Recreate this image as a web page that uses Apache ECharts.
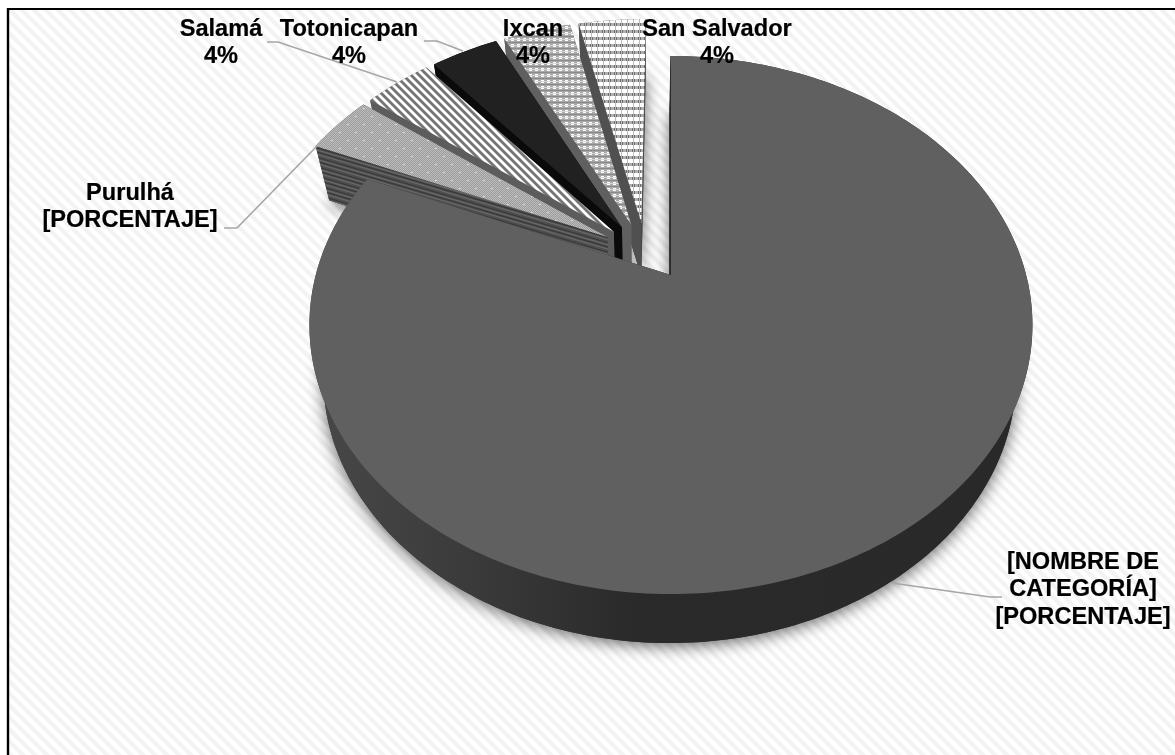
<!DOCTYPE html>
<html><head><meta charset="utf-8">
<style>html,body{margin:0;padding:0;background:#fff}#c{width:1175px;height:755px}</style>
<script src="https://cdn.jsdelivr.net/npm/echarts@6/dist/echarts.min.js"></script>
</head><body><div id="c"></div>
<script>
// ---- data ----
const categories = ['[NOMBRE DE CATEGORÍA]', 'Purulhá', 'Salamá', 'Totonicapan', 'Ixcan', 'San Salvador'];
const sliceValues = [22, 1, 1, 1, 1, 1];
const labelTexts = ['[NOMBRE DE\nCATEGORÍA]\n[PORCENTAJE]', 'Purulhá\n[PORCENTAJE]', 'Salamá\n4%', 'Totonicapan\n4%', 'Ixcan\n4%', 'San Salvador\n4%'];

// ---- layout / style ----
const labelCenters = [[1083, 589.5], [130, 207], [221, 43], [349, 43], [533, 43], [717, 43]];
const leaders = [
  [[1002,597],[990,597],[892,583]],
  [[224,228],[237,228],[317,146]],
  [[267,42],[278,42],[397,82]],
  [[424,41],[437,41],[463,51]],
  null, null
];
const total = sliceValues.reduce((a, b) => a + b, 0);
const CX = 671.5, PROJ_A = 275, PROJ_B = -208.6, PROJ_C = 0.1859, PROJ_RX = 355.2;
const HUB = [-0.073, 0.0944], EXPLODE_U = 0.13, EXPLODE_V = 0.113;
const DEPTH = 49, DEPTH_GROW = 0.012, SHRINK = 0.958, VX = 640;

function project(u, v) {
  const w = 1 + PROJ_C * v;
  return [CX + PROJ_RX * u / w, (PROJ_A + PROJ_B * v) / w];
}
function lower(p) { return [p[0] + (VX - p[0]) * (1 - SHRINK), p[1] + DEPTH + (594 - p[1]) * DEPTH_GROW]; }

function tile(size, draw) {
  const w = Array.isArray(size) ? size[0] : size, h = Array.isArray(size) ? size[1] : size;
  const cv = document.createElement('canvas'); cv.width = w; cv.height = h;
  const g = cv.getContext('2d'); draw(g, w, h); return cv;
}
function diag(g, s, bg, fg, lw) {
  g.fillStyle = bg; g.fillRect(0, 0, s, s);
  g.strokeStyle = fg; g.lineWidth = lw;
  for (let i = -2 * s; i <= 2 * s; i += s) { g.beginPath(); g.moveTo(i - s, -s); g.lineTo(i + 2 * s, 2 * s); g.stroke(); }
}
const bgTile = tile(12, (g, s) => diag(g, s, '#ffffff', '#f3f3f3', 4.2));
const salamaTile = tile(8, (g, s) => diag(g, s, '#ffffff', '#757575', 2.8));
const purulhaTile = tile(16, (g) => {
  for (let y = 0; y < 16; y++) for (let x = 0; x < 16; x++) {
    g.fillStyle = (x + y) % 2 ? '#9c9c9c' : '#bcbcbc'; g.fillRect(x, y, 1, 1);
  }
  g.fillStyle = '#dcdcdc'; g.fillRect(3, 4, 2, 1); g.fillRect(11, 12, 2, 1);
});
const purulhaSide = tile([8, 9], (g) => {
  g.fillStyle = '#4e4e4e'; g.fillRect(0, 0, 8, 9);
  g.fillStyle = '#6c6c6c'; g.fillRect(0, 0, 8, 1); g.fillRect(0, 4, 8, 1);
  g.fillStyle = '#363636'; g.fillRect(0, 2, 8, 1); g.fillRect(0, 7, 8, 1);
});
const ixcanTile = tile(6, (g) => {
  g.fillStyle = '#a8a8a8'; g.fillRect(0, 0, 6, 6);
  g.fillStyle = '#8a8a8a'; g.fillRect(0, 0, 6, 1);
  g.fillStyle = '#ffffff'; g.fillRect(1, 2, 3, 3);
  g.fillStyle = '#d8d8d8'; g.fillRect(0, 3, 6, 1);
});
const salvadorTile = tile([6, 7], (g) => {
  g.fillStyle = '#ffffff'; g.fillRect(0, 0, 6, 7);
  g.fillStyle = '#b0b0b0'; g.fillRect(0, 2, 6, 3);
  g.fillStyle = '#6e6e6e'; g.fillRect(2, 2, 3, 3);
  g.fillStyle = '#bbbbbb'; g.fillRect(3, 0, 1, 7);
});

const topFills = ['#606060', {image: purulhaTile, repeat: 'repeat'}, {image: salamaTile, repeat: 'repeat'}, '#212121',
  {image: ixcanTile, repeat: 'repeat'}, {image: salvadorTile, repeat: 'repeat'}];
const sideFills = [
  {type: 'linear', x: 0, y: 0, x2: 1, y2: 0, colorStops: [
    {offset: 0, color: '#484848'}, {offset: 0.2, color: '#3c3c3c'}, {offset: 0.45, color: '#2a2a2a'}, {offset: 1, color: '#292929'}]},
  {image: purulhaSide, repeat: 'repeat', rotation: 0.286}, '#5c5c5c', '#0a0a0a', '#606060', '#505050'
];

function renderSlice(params, api) {
  const i = params.dataIndex;
  const before = sliceValues.slice(0, i).reduce((a, b) => a + b, 0);
  const a0 = before / total * 2 * Math.PI, a1 = (before + api.value(1)) / total * 2 * Math.PI;
  const mid = (a0 + a1) / 2;
  const ax = HUB[0] + EXPLODE_U * Math.sin(mid), ay = HUB[1] + EXPLODE_V * Math.cos(mid);
  const apex = project(ax, ay);
  const arc = [];
  const n = Math.max(8, Math.round((a1 - a0) * 180 / Math.PI));
  for (let k = 0; k <= n; k++) {
    const t = a0 + (a1 - a0) * k / n;
    arc.push(project(ax + Math.sin(t), ay + Math.cos(t)));
  }
  const arcLow = arc.map(lower), apexLow = lower(apex);
  const z = 10 * (6 - i) + (i === 0 ? 100 : 0);
  const kids = [];
  // shadow-casting floor
  kids.push({type: 'polygon', z2: i === 0 ? 1 : 2,
    shape: {points: [apexLow].concat(arcLow)},
    style: {fill: '#333', shadowBlur: 16, shadowColor: 'rgba(0,0,0,0.6)', shadowOffsetX: 0, shadowOffsetY: 3}});
  // radial faces
  kids.push({type: 'polygon', z2: z, shape: {points: [apex, arc[0], arcLow[0], apexLow]},
    style: {fill: sideFills[i] , stroke: i === 0 ? '#2a2a2a' : null, lineWidth: 1}});
  kids.push({type: 'polygon', z2: z, shape: {points: [apex, arc[n], arcLow[n], apexLow]},
    style: {fill: sideFills[i]}});
  // rim
  kids.push({type: 'polygon', z2: z + 1, shape: {points: arc.concat(arcLow.slice().reverse())},
    style: {fill: sideFills[i]}});
  // top face
  kids.push({type: 'polygon', z2: z + 2, shape: {points: [apex].concat(arc)},
    style: {fill: topFills[i]}});
  // leader
  if (leaders[i]) kids.push({type: 'polyline', z2: 300, shape: {points: leaders[i]},
    style: {fill: null, stroke: '#a6a6a6', lineWidth: 1.6}});
  // label
  kids.push({type: 'text', z2: 400, style: {
    text: labelTexts[i], x: labelCenters[i][0], y: labelCenters[i][1], align: 'center', verticalAlign: 'middle',
    font: 'bold 23.6px "Liberation Sans", Arial, sans-serif', lineHeight: 27.5, fill: '#000', stroke: '#000', lineWidth: 0.2}});
  return {type: 'group', children: kids};
}

const chart = echarts.init(document.getElementById('c'), null, {renderer: 'canvas'});
chart.setOption({
  animation: false,
  backgroundColor: '#ffffff',
  graphic: [
    {type: 'rect', z: 0, shape: {x: 8, y: 9, width: 1167, height: 746}, style: {fill: {image: bgTile, repeat: 'repeat'}}},
    {type: 'line', z: 1, shape: {x1: 7, y1: 9, x2: 1175, y2: 9}, style: {stroke: '#000', lineWidth: 2}},
    {type: 'line', z: 1, shape: {x1: 8, y1: 8, x2: 8, y2: 755}, style: {stroke: '#000', lineWidth: 2.4}}
  ],
  series: [{
    type: 'custom',
    coordinateSystem: 'none',
    renderItem: renderSlice,
    data: categories.map((name, i) => ({name, value: [i, sliceValues[i]]}))
  }]
});
</script></body></html>
